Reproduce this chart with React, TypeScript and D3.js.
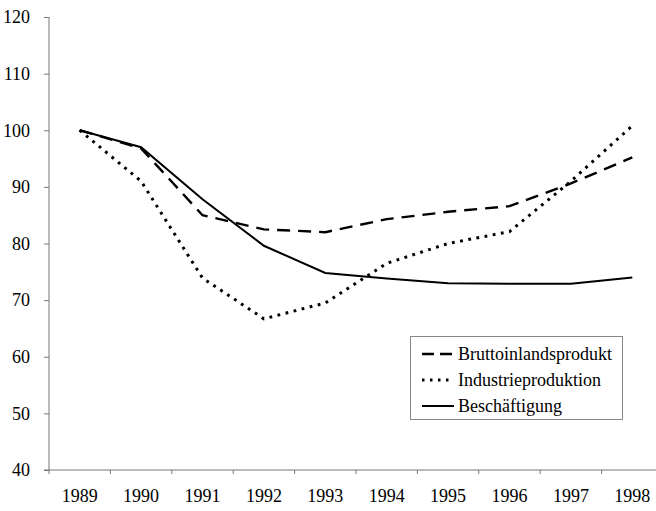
import React, { useRef, useEffect } from "react";
import * as d3 from "d3";

// years on the x axis
const years = ["1989", "1990", "1991", "1992", "1993", "1994", "1995", "1996", "1997", "1998"];

// index values (1989 = 100)
const bruttoinlandsprodukt = [100, 96.8, 85.0, 82.5, 82.0, 84.3, 85.6, 86.6, 90.6, 95.2];
const industrieproduktion = [100, 91.0, 73.9, 66.7, 69.5, 76.5, 80.0, 82.1, 91.0, 100.8];
const beschaeftigung = [100, 97.0, 87.8, 79.6, 74.8, 73.8, 73.0, 72.9, 72.9, 74.0];

const yTicks = [40, 50, 60, 70, 80, 90, 100, 110, 120];

const seriesNames = ["Bruttoinlandsprodukt", "Industrieproduktion", "Beschäftigung"];

const App = () => {
  const container = useRef(null);

  const width = 656;
  const height = 511;
  const font = '"Liberation Serif", "Times New Roman", "DejaVu Serif", serif';

  useEffect(() => {
    const svg = d3.select(container.current);
    svg.selectAll("*").remove();

    const xScale = d3.scaleBand().domain(years).range([49, 663]);
    const yScale = d3.scaleLinear().domain([40, 120]).range([470, 17]);

    // y axis
    const yAxis = svg
      .append("g")
      .attr("transform", "translate(49,0)")
      .call(d3.axisLeft(yScale).tickValues(yTicks).tickSize(5).tickPadding(14).tickFormat(d3.format("d")));
    yAxis.attr("font-family", null).attr("font-size", null);
    yAxis.select(".domain").attr("stroke", "#777").attr("d", "M0,17V474");
    yAxis.selectAll(".tick line").attr("stroke", "#777");
    yAxis.selectAll("text").attr("fill", "#000");

    // x axis line + tick marks at the band boundaries
    svg
      .append("line")
      .attr("x1", 44)
      .attr("x2", width)
      .attr("y1", yScale(40))
      .attr("y2", yScale(40))
      .attr("stroke", "#777");

    svg
      .selectAll(".xtick")
      .data(years.slice(1))
      .enter()
      .append("line")
      .attr("x1", d => xScale(d))
      .attr("x2", d => xScale(d))
      .attr("y1", yScale(40))
      .attr("y2", yScale(40) + 4)
      .attr("stroke", "#777");

    const xAxis = svg
      .append("g")
      .attr("transform", `translate(0,${yScale(40)})`)
      .call(d3.axisBottom(xScale).tickSize(0).tickPadding(19));
    xAxis.attr("font-family", null).attr("font-size", null);
    xAxis.select(".domain").remove();
    xAxis.selectAll("text").attr("fill", "#000");

    // lines
    const line = d3
      .line()
      .x((d, i) => xScale(years[i]) + xScale.bandwidth() / 2)
      .y(d => yScale(d));

    const series = [
      { values: bruttoinlandsprodukt, dash: "13,8", width: 2.4 },
      { values: industrieproduktion, dash: "2.8,5.5", width: 3 },
      { values: beschaeftigung, dash: null, width: 2 },
    ];

    svg
      .selectAll(".series")
      .data(series)
      .enter()
      .append("path")
      .attr("d", d => line(d.values))
      .attr("fill", "none")
      .attr("stroke", "#000")
      .attr("stroke-width", d => d.width)
      .attr("stroke-dasharray", d => d.dash);

    // legend
    const legend = svg.append("g").attr("transform", "translate(410,336)");

    legend
      .append("rect")
      .attr("x", 0.5)
      .attr("y", 0.5)
      .attr("width", 212)
      .attr("height", 83)
      .attr("fill", "#fff")
      .attr("stroke", "#888");

    legend
      .selectAll(".lline")
      .data(series)
      .enter()
      .append("line")
      .attr("x1", 12)
      .attr("x2", 44)
      .attr("y1", (d, i) => 18 + i * 26)
      .attr("y2", (d, i) => 18 + i * 26)
      .attr("stroke", "#000")
      .attr("stroke-width", d => d.width)
      .attr("stroke-dasharray", (d, i) => (i === 0 ? "12,6" : i === 1 ? "2.5,5.5" : null));

    legend
      .selectAll("text")
      .data(seriesNames)
      .enter()
      .append("text")
      .attr("x", 48)
      .attr("y", (d, i) => 18 + i * 26)
      .attr("dy", "0.35em")
      .attr("fill", "#000")
      .text(d => d);
  }, []);

  return (
    <svg
      ref={container}
      width={width}
      height={height}
      fontFamily={font}
      fontSize={18}
      style={{ position: "absolute", left: 0, top: 0, background: "#fff" }}
    />
  );
};

export default App;
